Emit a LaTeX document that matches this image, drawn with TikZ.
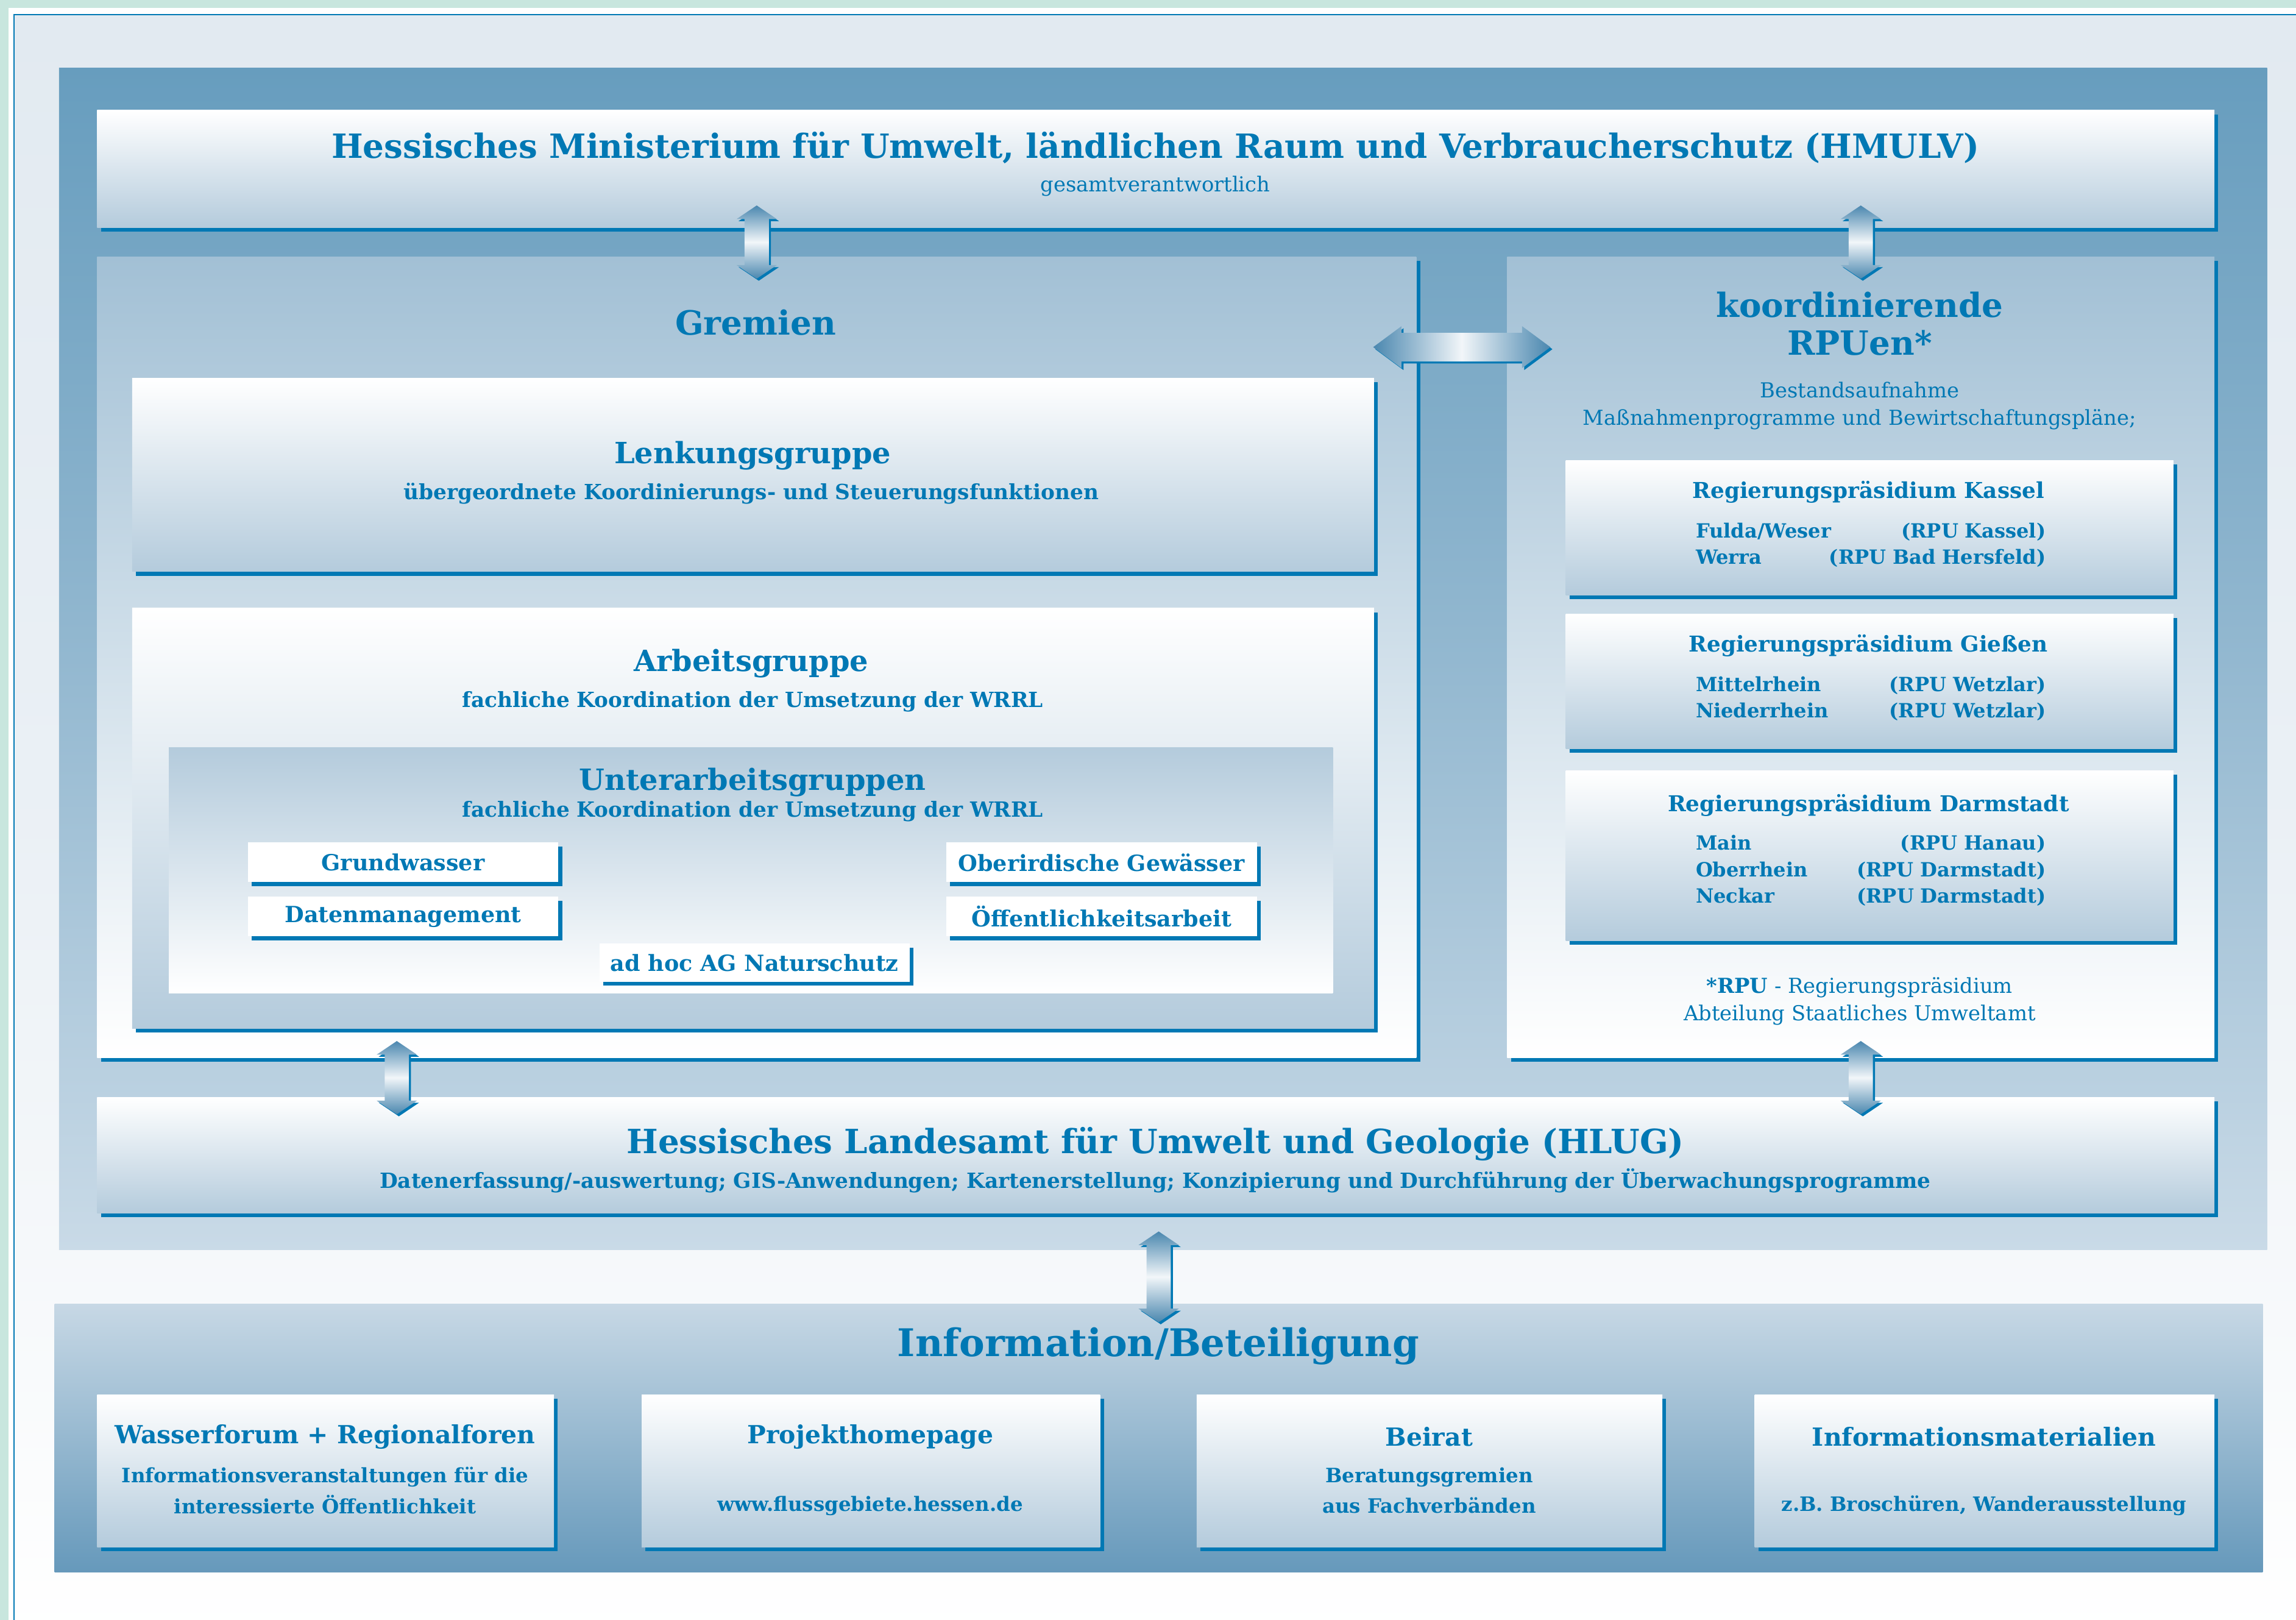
\documentclass[tikz,border=0pt]{standalone}
\usepackage{fontspec}
\setmainfont{DejaVu Serif}
\usetikzlibrary{positioning,calc,shapes.arrows,shadows}

\definecolor{txtblue}{HTML}{0078B4}
\definecolor{mint}{HTML}{C8E6DE}
\definecolor{framebg}{HTML}{E2EAF1}
\definecolor{paneltop}{HTML}{679DBE}
\definecolor{panelmid}{HTML}{93B8D0}
\definecolor{panelbot}{HTML}{C9DAE7}
\definecolor{boxbot}{HTML}{B4CBDC}
\definecolor{grtop}{HTML}{A2C0D5}
\definecolor{infotop}{HTML}{C7D8E5}
\definecolor{infobot}{HTML}{6699BB}
\definecolor{arrowend}{HTML}{4A87AF}
\definecolor{arrowmid}{HTML}{F2F6F9}

\tikzset{
  blueshadow/.style={drop shadow={shadow xshift=.65mm, shadow yshift=-.7mm, fill=txtblue, opacity=1}},
  frame/.style={rectangle, anchor=north west, inner sep=0pt},
  panel/.style={frame, top color=paneltop, bottom color=panelbot, middle color=panelmid},
  box/.style={frame, blueshadow, top color=white, bottom color=boxbot},
  grbox/.style={frame, blueshadow, top color=grtop, bottom color=white},
  uagbox/.style={frame, top color=boxbot, bottom color=white},
  smallbox/.style={frame, blueshadow, fill=white, lbl, font=\bfseries\fontsize{10.8}{13}\selectfont},
  infobox/.style={frame, top color=infotop, bottom color=infobot},
  dblarrow/.style={double arrow, double arrow head indent=0pt,
    drop shadow={shadow xshift=.35mm, shadow yshift=-.35mm, fill=txtblue, opacity=1}},
  varrow/.style={dblarrow, shape border rotate=90, inner sep=2mm,
    double arrow head extend=1.375mm, double arrow tip angle=112,
    top color=arrowend, bottom color=arrowend, middle color=arrowmid},
  harrow/.style={dblarrow, inner sep=2.375mm, double arrow head extend=1.125mm,
    double arrow tip angle=73, left color=arrowend, right color=arrowend, middle color=arrowmid},
  lbl/.style={text=txtblue, inner sep=0pt},
  head/.style={lbl, align=center, font=\bfseries\fontsize{16.2}{18.5}\selectfont},
  title/.style={lbl, font=\bfseries\fontsize{14.2}{17}\selectfont},
  sub/.style={lbl, font=\bfseries\fontsize{10.15}{13}\selectfont},
  note/.style={lbl, align=center, font=\fontsize{10}{13.2}\selectfont},
  rptitle/.style={lbl, font=\bfseries\fontsize{10.6}{13}\selectfont},
  rplist/.style={lbl, text width=59.75mm, align=left, font=\bfseries\fontsize{9.5}{12.8}\selectfont},
  bottitle/.style={lbl, font=\bfseries\fontsize{12.1}{15}\selectfont},
  botline/.style={lbl, align=center, font=\bfseries\fontsize{9.6}{14.9}\selectfont},
}

\begin{document}
\begin{tikzpicture}[x=1mm, y=-1mm]
  \useasboundingbox (0,0) rectangle (392,276.5);

  % paper and frame
  \fill[mint] (0,0) rectangle (392,276.5);
  \fill[white] (1.5,1.4) rectangle (392,276.5);
  \draw[txtblue, line width=.25mm, top color=framebg, bottom color=white, middle color=framebg!70!white]
    (2.4,2.5) rectangle (395,280);

  % state level
  \node (land) [panel, minimum width=377mm, minimum height=201.75mm] at (10,11.5) {};
  \node (ministry) [box, minimum width=361.5mm, minimum height=20mm] at (16.5,18.75) {};
  \node (gremien) [grbox, minimum width=225.25mm, minimum height=136.75mm] at (16.5,43.75) {};
  \node (rpuen) [grbox, minimum width=120.75mm, minimum height=136.75mm] at (257.25,43.75) {};
  \node (lenkung) [box, minimum width=212mm, minimum height=33mm] at (22.5,64.5) {};
  \node (arbeit) [box, minimum width=212mm, minimum height=71.75mm] at (22.5,103.75) {};
  \node (unterag) [uagbox, minimum width=198.75mm, minimum height=42mm] at (28.75,127.5) {};
  \node (gw) [smallbox, minimum width=53mm, minimum height=6.75mm] at (42.25,143.75) {Grundwasser};
  \node (og) [smallbox, minimum width=53mm, minimum height=6.75mm] at (161.5,143.75) {Oberirdische Gewässer};
  \node (dm) [smallbox, minimum width=53mm, minimum height=6.75mm] at (42.25,153) {Datenmanagement};
  \node (oa) [smallbox, minimum width=53mm, minimum height=6.75mm] at (161.5,153) {Öffentlichkeitsarbeit};
  \node (adhoc) [smallbox, minimum width=53mm, minimum height=6.5mm] at (102.25,161) {ad hoc AG Naturschutz};
  \node (kassel) [box, minimum width=103.75mm, minimum height=23mm] at (267.25,78.5) {};
  \node (giessen) [box, minimum width=103.75mm, minimum height=23mm] at (267.25,104.75) {};
  \node (darmstadt) [box, minimum width=103.75mm, minimum height=29mm] at (267.25,131.5) {};
  \node (hlug) [box, minimum width=361.5mm, minimum height=19.75mm] at (16.5,187.25) {};

  % participation
  \node (info) [infobox, minimum width=377mm, minimum height=45.75mm] at (9.25,222.5) {};
  \node (forum) [box, minimum width=78mm, minimum height=26mm] at (16.5,238) {};
  \node (homepage) [box, minimum width=78.25mm, minimum height=26mm] at (109.5,238) {};
  \node (beirat) [box, minimum width=79.5mm, minimum height=26mm] at (204.25,238) {};
  \node (material) [box, minimum width=78.5mm, minimum height=26mm] at (299.5,238) {};

  % arrows
  \node (a1) [varrow, minimum height=12.5mm] at ($(ministry.south -| gremien.north)!.5!(gremien.north)$) {};
  \node (a2) [varrow, minimum height=12.5mm] at ($(ministry.south -| rpuen.north)!.5!(rpuen.north)$) {};
  \node (a3) [harrow, minimum height=30.25mm] at ($(gremien.north east)!.5!(rpuen.north west)+(0,15.5)$) {};
  \node (a4) [varrow, minimum height=12.5mm] at ($(gremien.south west)!.5!(hlug.north west)+(51.25,0)$) {};
  \node (a5) [varrow, minimum height=12.5mm] at ($(rpuen.south)!.5!(hlug.north -| rpuen.south)$) {};
  \node (a6) [varrow, minimum height=15.5mm] at ($(info.north)!.5!(land.south -| info.north)$) {};

  % texts
  \node (ministryt) [head] at (197.25,25.25) {Hessisches Ministerium für Umwelt, ländlichen Raum und Verbraucherschutz (HMULV)};
  \node (ministrys) [note] at (197.25,31.75) {gesamtverantwortlich};
  \node (gremient) [head] at (129,55) {Gremien};
  \node (rpuent) [head] at (317.5,55.25) {koordinierende\\RPUen*};
  \node (rpuens) [note] at (317.5,69.25) {Bestandsaufnahme\\Maßnahmenprogramme und Bewirtschaftungspläne;};
  \node (lenkungt) [title] at (128.5,77.75) {Lenkungsgruppe};
  \node (lenkungs) [sub] at (128.25,84.25) {übergeordnete Koordinierungs- und Steuerungsfunktionen};
  \node (arbeitt) [title] at (128.25,113.25) {Arbeitsgruppe};
  \node (arbeits) [sub] at (128.5,119.75) {fachliche Koordination der Umsetzung der WRRL};
  \node (unteragt) [title] at (128.5,133.5) {Unterarbeitsgruppen};
  \node (unterags) [sub] at (128.5,138.5) {fachliche Koordination der Umsetzung der WRRL};

  \node (kasselt) [rptitle] at (319,84) {Regierungspräsidium Kassel};
  \node (kassell) [rplist] at (319.4,93) {Fulda/Weser\hfill(RPU Kassel)\\ Werra\hfill(RPU Bad Hersfeld)};
  \node (giessent) [rptitle] at (319,110.25) {Regierungspräsidium Gießen};
  \node (giessenl) [rplist] at (319.4,119.25) {Mittelrhein\hfill(RPU Wetzlar)\\ Niederrhein\hfill(RPU Wetzlar)};
  \node (darmstadtt) [rptitle] at (319,137.5) {Regierungspräsidium Darmstadt};
  \node (darmstadtl) [rplist] at (319.4,148.6) {Main\hfill(RPU Hanau)\\ Oberrhein\hfill(RPU Darmstadt)\\ Neckar\hfill(RPU Darmstadt)};
  \node (rpufn) [note] at (317.5,170.9) {\textbf{*RPU} - Regierungspräsidium\\Abteilung Staatliches Umweltamt};

  \node (hlugt) [head] at (197.25,195.25) {Hessisches Landesamt für Umwelt und Geologie (HLUG)};
  \node (hlugs) [sub] at (197.25,201.5) {Datenerfassung/-auswertung; GIS-Anwendungen; Kartenerstellung; Konzipierung und Durchführung der Überwachungsprogramme};

  \node (infot) [lbl, font=\bfseries\fontsize{18.5}{21}\selectfont] at (197.75,229.75) {Information/Beteiligung};
  \node (forumt) [bottitle] at (55.5,245.25) {Wasserforum + Regionalforen};
  \node (foruml) [botline] at (55.5,254.4) {Informationsveranstaltungen für die\\interessierte Öffentlichkeit};
  \node (homepaget) [bottitle] at (148.6,245.25) {Projekthomepage};
  \node (homepagel) [botline] at (148.6,257) {www.flussgebiete.hessen.de};
  \node (beiratt) [bottitle] at (244,245.25) {Beirat};
  \node (beiratl) [botline] at (244,254.4) {Beratungsgremien\\aus Fachverbänden};
  \node (materialt) [bottitle] at (338.75,245.25) {Informationsmaterialien};
  \node (materiall) [botline] at (338.75,257) {z.B. Broschüren, Wanderausstellung};
\end{tikzpicture}
\end{document}
